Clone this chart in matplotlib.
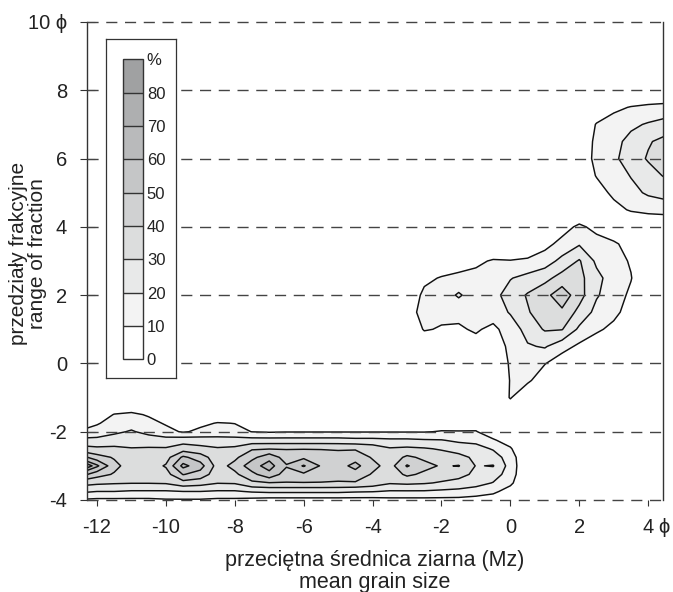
"""
Mz vs fraction range - contour map (percent in each fraction class)
"""
import numpy as np
import matplotlib
matplotlib.use('Agg')
import matplotlib.pyplot as plt
from matplotlib.colors import ListedColormap, BoundaryNorm
from matplotlib.cm import ScalarMappable

plt.rcParams['font.family'] = ['Liberation Sans', 'DejaVu Sans']

PHI = '\u03d5'

# contour levels [%] and shades (0-10 white ... 80+ darkest)
levels = [10, 20, 30, 40, 50, 60, 70, 80]
shades = ['#ffffff', '#f3f3f3', '#e8e9e9', '#dcdddd', '#d0d1d2',
          '#c5c6c7', '#b9babb', '#aeafb0', '#a0a1a2']

# --- gravel band (lower part) ---  values read per Mz column, bottom -> top
band_x = [-12.5, -12.0, -11.5, -11.0, -10.5, -10.0, -9.5, -9.0, -8.5, -8.0,
          -7.5, -7.0, -6.5, -6.0, -5.5, -5.0, -4.5, -4.0, -3.5, -3.0,
          -2.5, -2.0, -1.5, -1.0, -0.5, 0.0, 0.5]
band_y = [-4.0, -3.75, -3.5, -3.25, -3.0, -2.75, -2.5, -2.25, -2.0, -1.75,
          -1.5, -1.25, -1.0]
band_by_x = [
    [9, 22, 34, 55, 90, 55, 34, 23, 11, 4, 0, 0, 0],           # -12.5
    [8, 20, 32, 44, 62, 44, 32, 23, 14, 9, 4, 0, 0],           # -12.0
    [8, 20, 31, 39, 43, 39, 32, 25, 18, 14, 10.5, 3, 0],       # -11.5
    [8, 19, 30.5, 33, 35, 33, 30.5, 26, 21, 16, 12, 4, 0],     # -11.0
    [8, 19, 30.5, 33, 35, 33, 31, 25, 17, 13, 9, 2, 0],        # -10.5
    [9, 19, 31, 36, 41, 36, 31, 24, 13, 9, 3, 0, 0],           # -10.0
    [9, 20, 36, 50.5, 63, 52, 35, 26, 9, 3, 0, 0, 0],          # -9.5
    [9, 20, 34, 46, 54, 45, 33, 25, 12, 8, 2, 0, 0],           # -9.0
    [8, 19, 30.5, 34, 36, 34, 31, 24, 14, 10.5, 3, 0, 0],      # -8.5
    [8, 19, 31, 38, 43, 38, 32, 24, 13, 9.8, 3, 0, 0],         # -8.0
    [7, 21, 38, 47, 56, 47, 39, 24, 9.8, 4, 0, 0, 0],          # -7.5
    [6, 22, 39.5, 57, 64, 57, 39.5, 24, 9, 3, 0, 0, 0],        # -7.0
    [6, 22, 39.5, 45, 51, 45, 39.5, 24, 9.5, 3, 0, 0, 0],      # -6.5
    [6, 22, 39.5, 48, 61, 48, 39.5, 24, 9.5, 3, 0, 0, 0],      # -6.0
    [6, 22, 39.5, 45, 49, 45, 39.5, 24, 9.5, 3, 0, 0, 0],      # -5.5
    [6, 22, 39, 44, 46, 44, 39, 24, 9.5, 3, 0, 0, 0],          # -5.0
    [6, 21, 39, 46, 53, 46, 39, 23, 9.5, 3, 0, 0, 0],          # -4.5
    [6, 20.5, 36, 39, 43, 39, 36, 23, 9.5, 3, 0, 0, 0],        # -4.0
    [7, 19, 31, 34, 36, 34, 31, 22, 9.5, 3, 0, 0, 0],          # -3.5
    [7, 19, 32, 42, 51, 42, 32, 22, 9.5, 3, 0, 0, 0],          # -3.0
    [7, 19, 31, 38, 43, 38, 31, 21, 9.5, 3, 0, 0, 0],          # -2.5
    [7, 18, 29, 35, 39, 35, 29, 20.5, 10.5, 6, 0, 0, 0],       # -2.0
    [7, 17, 27, 33, 40.5, 33, 26, 18, 10.5, 5, 0, 0, 0],       # -1.5
    [6, 15, 24, 28, 29.5, 28, 24, 17, 10.5, 6, 0, 0, 0],       # -1.0
    [5, 12, 19.5, 25, 30.5, 25, 19, 11, 5, 0, 0, 0, 0],        # -0.5
    [2, 6, 12, 15, 16, 15, 11, 6, 2, 0, 0, 0, 0],              # 0.0
    [0, 0, 0, 0, 0, 0, 0, 0, 0, 0, 0, 0, 0],                   # 0.5
]

# --- sand blob (middle) ---  values per fraction row
mid_x = [-3.0, -2.5, -2.0, -1.5, -1.0, -0.5, 0.0, 0.5, 1.0, 1.5, 2.0, 2.5, 3.0, 3.5, 4.0]
mid_y = [-1.5, -1.0, -0.5, 0.0, 0.5, 1.0, 1.5, 2.0, 2.5, 3.0, 3.5, 4.0, 4.5]
mid_by_y = [
    [0, 0, 0, 0, 0, 0, 0, 0, 0, 0, 0, 0, 0, 0, 0],                     # -1.5
    [0, 0, 0, 0, 0, 0, 10.8, 0, 0, 0, 0, 0, 0, 0, 0],                  # -1.0
    [0, 0, 0, 0, 0, 0, 10.5, 12, 3, 0, 0, 0, 0, 0, 0],                 # -0.5
    [0, 0, 0, 0, 0, 3, 11, 14, 10.5, 4, 0, 0, 0, 0, 0],                # 0.0
    [0, 0, 0, 0, 7, 5, 12, 19, 21, 14, 8, 3, 0, 0, 0],                 # 0.5
    [0, 11, 9, 9, 11, 8, 14, 24, 31, 30.5, 18, 12, 7, 0, 0],           # 1.0
    [5, 14, 13, 12, 12, 14, 21, 29, 36, 38, 27, 17, 13, 5, 0],         # 1.5
    [0, 13, 14, 21.5, 14, 17, 24, 31, 37, 46, 34, 21, 15, 8, 0],       # 2.0
    [0, 7, 11, 12, 13, 15, 19.5, 23, 27, 34, 33, 23, 15, 10.5, 0],     # 2.5
    [0, 0, 0, 6, 8, 11, 10.5, 12, 15, 23, 31, 18, 14, 9, 0],           # 3.0
    [0, 0, 0, 0, 0, 0, 0, 0, 7, 13, 19, 14, 12, 5, 0],                 # 3.5
    [0, 0, 0, 0, 0, 0, 0, 0, 0, 6, 12, 7, 0, 0, 0],                    # 4.0
    [0, 0, 0, 0, 0, 0, 0, 0, 0, 0, 0, 0, 0, 0, 0],                     # 4.5
]

# --- silt blob (upper right) ---
up_x = [1.5, 2.0, 2.5, 3.0, 3.5, 4.0, 4.5]
up_y = [4.0, 4.5, 5.0, 5.5, 6.0, 6.5, 7.0, 7.5, 8.0]
up_by_y = [
    [0, 0, 0, 0, 0, 0, 0],              # 4.0
    [0, 0, 0, 7, 11, 13, 14],           # 4.5
    [0, 0, 6, 12, 17, 21.5, 24],        # 5.0
    [0, 3, 10.5, 15, 20.5, 26, 31],     # 5.5
    [0, 5, 12, 18, 25, 31, 38],         # 6.0
    [0, 5, 11.5, 17, 23, 29, 33],       # 6.5
    [0, 3, 10.5, 14, 18, 21, 24],       # 7.0
    [0, 0, 4, 8, 10.5, 12, 13],         # 7.5
    [0, 0, 0, 0, 0, 0, 0],              # 8.0
]

x_ticks = [-12, -10, -8, -6, -4, -2, 0, 2, 4]
y_ticks = [-4, -2, 0, 2, 4, 6, 8, 10]
y_ticklabels = ['-4', '-2', '0', '2', '4', '6', '8', '10 ' + PHI]

fig = plt.figure(figsize=(6.73, 5.92), dpi=100)
ax = fig.add_axes([0.12927, 0.15541, 0.85587, 0.80743])

blocks = [
    (band_x, band_y, np.array(band_by_x).T),
    (mid_x, mid_y, np.array(mid_by_y)),
    (up_x, up_y, np.array(up_by_y)),
]
for bx, by, z in blocks:
    ax.contourf(bx, by, z, levels=levels + [100], colors=shades[1:], zorder=1)
    ax.contour(bx, by, z, levels=levels, colors='#111111', linewidths=1.05, zorder=2)

# dashed lines every 2 phi
for yy in y_ticks:
    ax.axhline(yy, color='#444444', lw=1.0, ls=(0, (8, 5.5)), zorder=3, clip_on=False)

ax.set_xlim(-12.29, 4.43)
ax.set_ylim(-4, 10)
ax.set_xticks(x_ticks)
ax.set_xticklabels([str(v) for v in x_ticks])
ax.set_yticks(y_ticks)
ax.set_yticklabels(y_ticklabels)

ax.spines['top'].set_visible(False)
ax.spines['bottom'].set_visible(False)
for s in ['left', 'right']:
    ax.spines[s].set_color('#333333')
    ax.spines[s].set_linewidth(1.0)

ax.tick_params(axis='y', direction='inout', length=10.8, width=0.8, pad=9,
               labelsize=14.5, color='#333333', labelcolor='#222222')
ax.tick_params(axis='x', direction='out', length=4.3, width=0.8, pad=8.7,
               labelsize=14.5, color='#333333', labelcolor='#222222')

# phi after the last x tick
ax.annotate(PHI, xy=(4, 0), xycoords=ax.get_xaxis_transform(),
            xytext=(7.2, -13), textcoords='offset points',
            ha='left', va='top', fontsize=14.5, color='#222222')

ax.set_xlabel('przeciętna średnica ziarna (Mz)\nmean grain size',
              fontsize=15.5, linespacing=1.08, color='#222222')
ax.xaxis.set_label_coords(0.5, -0.104)
ax.set_ylabel('przedziały frakcyjne\nrange of fraction',
              fontsize=15, linespacing=1.0, color='#222222')
ax.yaxis.set_label_coords(-0.069, 0.515)

# legend box with the shade scale
box = fig.add_axes([0.1575, 0.3620, 0.1040, 0.5716])
box.set_xticks([])
box.set_yticks([])
for s in box.spines.values():
    s.set_color('#333333')
    s.set_linewidth(0.9)

cax = fig.add_axes([0.1832, 0.3931, 0.02883, 0.5068])
bounds = list(range(0, 100, 10))
sm = ScalarMappable(norm=BoundaryNorm(bounds, len(shades)), cmap=ListedColormap(shades))
cb = fig.colorbar(sm, cax=cax, ticks=bounds, drawedges=True)
cb.ax.set_yticklabels([str(v) for v in bounds[:-1]] + ['%'])
cb.ax.tick_params(length=0, labelsize=12, pad=3, labelcolor='#222222')
cb.outline.set_linewidth(1.0)
cb.outline.set_edgecolor('#333333')
cb.dividers.set_linewidth(1.0)
cb.dividers.set_color('#333333')

fig.savefig('out.png', dpi=100)
